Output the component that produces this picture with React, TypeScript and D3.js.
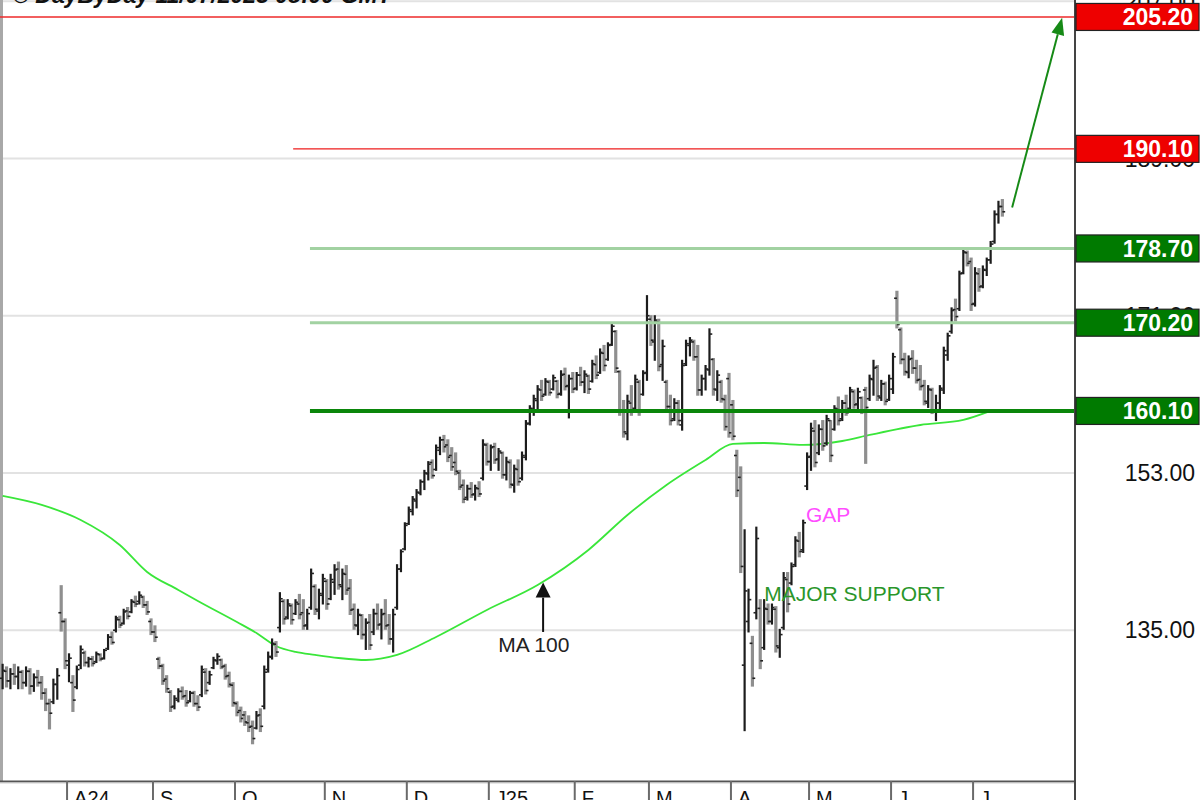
import React from "react";
import * as d3 from "d3";

// ---------- data ----------
const monthLabels = ["", "A24", "S", "O", "N", "D", "J25", "F", "M", "A", "M", "J", "J"];
const monthBarCounts = [17, 22, 21, 23, 21, 21, 22, 19, 21, 20, 21, 21, 8];

const opens = [
  129.5,130.3,129.2,130.0,129.7,130.2,129.0,130.3,128.6,129.6,
  129.0,127.8,126.6,126.8,128.8,137.0,136.0,131.0,129.0,128.5,
  131.0,132.4,131.3,131.7,131.4,132.2,131.8,132.9,134.2,135.0,
  136.2,135.8,137.2,137.1,138.2,138.3,138.8,137.9,136.0,134.8,
  131.7,130.9,129.4,127.9,126.3,127.0,128.0,127.5,126.9,127.8,
  126.6,127.6,130.2,129.0,130.7,131.5,131.6,130.9,129.8,128.7,
  126.6,125.8,125.3,124.4,124.0,123.8,125.3,126.3,130.5,131.9,
  133.4,135.3,138.3,136.5,137.8,136.9,138.0,137.0,135.6,137.6,
  140.0,137.2,139.0,140.6,138.6,140.5,142.0,140.0,141.4,139.8,
  137.4,135.5,136.7,134.5,135.9,134.8,136.9,135.7,136.9,135.6,
  134.0,137.6,142.0,144.3,147.2,148.6,149.8,150.7,152.0,152.9,
  154.2,153.4,155.6,156.8,156.2,155.0,154.2,153.0,151.6,150.2,
  151.2,150.6,151.2,152.4,156.2,154.3,156.0,154.6,155.3,152.8,
  154.2,151.6,153.4,152.4,154.8,158.7,160.3,161.3,162.5,162.0,
  163.4,162.6,163.5,162.1,164.3,163.0,163.8,162.7,164.2,163.4,
  164.1,163.5,165.4,164.5,166.7,166.0,167.7,169.2,164.6,160.0,
  157.5,161.0,160.4,163.4,162.0,164.5,170.6,168.0,170.3,165.4,
  163.4,160.6,159.2,161.0,158.5,165.5,167.6,168.0,166.3,162.5,
  163.8,164.8,166.0,162.5,163.4,161.4,163.8,160.8,155.0,152.5,
  131.0,136.0,133.5,137.0,137.5,133.0,137.4,136.0,137.4,133.0,
  135.3,140.8,140.4,142.5,145.2,144.2,151.5,154.9,157.8,155.3,
  158.0,156.4,159.0,158.0,160.3,159.2,161.0,160.4,162.3,160.9,
  161.6,162.5,161.5,163.7,165.1,161.6,163.2,161.4,162.6,173.0,
  169.4,166.0,164.5,166.1,165.0,163.7,163.0,161.0,162.5,160.1,
  161.0,162.5,166.5,169.2,171.7,171.8,175.9,178.2,177.2,172.4,
  175.8,174.4,176.2,177.4,179.5,182.6,183.5,
];
const highs = [
  131.1,130.8,130.6,131.1,130.8,130.4,130.8,130.6,130.0,130.4,
  129.7,128.3,127.1,129.4,130.6,140.1,136.3,132.3,129.8,130.9,
  133.2,132.6,131.9,132.0,132.5,132.3,132.8,134.5,134.8,136.6,
  136.6,137.4,137.6,138.5,138.9,139.4,138.9,138.3,136.3,135.5,
  131.9,131.1,129.8,128.1,127.5,128.3,128.5,128.1,128.0,128.0,
  127.5,130.9,130.6,130.3,131.9,132.3,131.7,131.1,130.2,129.0,
  126.8,126.2,125.7,125.2,124.6,125.7,126.0,130.9,132.5,134.0,
  133.7,139.3,138.5,138.5,138.0,138.5,139.1,138.5,137.4,142.0,
  140.2,139.7,141.4,140.8,141.4,142.5,142.8,142.0,142.4,140.8,
  138.0,137.4,136.8,136.3,136.8,137.4,138.0,137.4,138.5,136.8,
  137.4,142.5,144.2,147.3,149.1,150.3,151.1,152.2,153.3,154.3,
  154.5,156.2,157.1,157.3,156.8,155.9,155.3,153.3,152.2,151.6,
  151.9,151.6,152.0,156.8,156.4,156.2,156.4,155.8,155.4,154.8,
  154.5,153.9,154.5,155.4,159.0,160.7,161.9,163.0,163.6,163.8,
  163.6,164.2,163.6,164.7,165.0,164.2,164.5,164.5,165.1,164.7,
  164.2,165.9,166.4,167.2,167.6,167.9,170.1,169.3,164.7,161.3,
  161.9,163.0,164.2,163.6,164.7,173.3,171.0,171.0,170.6,168.2,
  163.6,161.9,161.5,161.3,165.9,168.2,168.5,168.2,167.6,164.2,
  165.3,169.5,166.1,164.7,163.6,161.9,164.4,161.3,155.6,153.7,
  146.5,139.7,134.3,146.8,138.5,138.5,138.0,138.0,137.7,135.1,
  141.6,141.6,142.7,145.7,146.2,147.6,155.3,158.7,159.0,158.5,
  159.0,159.6,159.0,160.7,161.7,161.3,161.9,162.8,162.5,162.7,
  161.7,162.8,164.2,165.9,165.3,163.6,163.4,164.2,166.7,173.8,
  169.6,166.7,166.4,167.0,165.9,165.3,163.6,163.0,162.7,161.9,
  163.0,167.4,169.0,171.9,172.9,176.1,178.6,178.4,177.6,176.5,
  176.4,176.7,177.6,179.5,183.0,184.1,184.3,
];
const lows = [
  128.3,128.5,128.3,128.8,128.3,128.3,128.6,127.7,128.0,128.6,
  127.1,125.8,123.7,126.6,127.1,134.9,130.6,129.1,125.7,128.3,
  130.6,130.9,130.8,130.9,131.3,131.5,131.7,132.8,133.4,134.8,
  135.3,135.7,136.3,137.0,137.7,138.0,137.6,136.8,134.5,133.7,
  130.6,128.8,127.9,125.7,126.0,126.8,127.1,126.3,126.8,126.3,
  125.8,127.4,127.7,128.8,130.6,131.1,130.6,129.4,128.5,126.3,
  125.2,124.5,124.1,123.4,122.0,123.7,123.4,126.0,130.2,131.7,
  132.0,134.8,135.7,136.3,135.7,136.8,136.3,135.1,135.1,137.4,
  136.8,136.3,138.0,137.4,138.5,139.1,139.7,138.5,139.1,136.8,
  135.1,134.5,134.0,132.8,132.8,134.5,135.1,134.0,135.1,133.4,
  132.5,137.4,141.7,144.2,147.1,148.2,149.0,150.5,151.1,152.2,
  152.4,153.3,155.1,155.4,154.3,153.3,152.8,151.1,149.6,149.9,
  150.2,149.9,150.3,152.2,153.9,153.3,154.1,153.3,152.4,152.2,
  151.3,150.8,151.6,152.2,154.5,158.5,159.6,160.2,161.3,161.9,
  161.9,162.5,161.6,161.9,162.5,159.3,162.2,162.5,163.0,162.2,
  162.1,163.4,163.8,164.4,164.7,165.9,167.6,164.5,159.6,157.1,
  156.8,159.6,160.2,159.6,161.9,163.6,167.6,165.9,164.7,163.6,
  160.2,158.5,159.0,158.5,157.9,165.3,166.4,165.9,161.9,161.9,
  162.5,164.2,161.9,161.3,161.1,157.9,157.1,156.8,150.3,141.6,
  123.5,134.8,128.6,136.3,130.6,132.8,135.7,135.7,132.5,131.9,
  135.1,137.1,140.2,142.3,143.4,143.9,151.1,153.3,153.7,155.1,
  155.6,156.2,154.3,157.9,158.5,159.0,159.6,160.2,160.4,160.0,
  159.8,154.1,161.3,161.9,161.3,161.3,160.8,161.3,162.1,169.6,
  165.5,164.2,163.9,164.4,163.3,162.5,160.8,160.5,159.8,159.0,
  160.2,162.1,165.9,169.0,170.4,171.6,175.8,176.7,171.6,172.1,
  173.8,174.2,175.6,177.0,179.3,181.6,182.4,
];
const closes = [
  130.4,129.2,130.0,129.7,130.2,129.0,130.3,128.6,129.6,129.0,
  127.8,126.6,125.5,128.8,129.8,136.0,131.5,131.8,127.0,130.5,
  132.8,131.3,131.7,131.2,132.3,131.7,132.7,134.2,133.6,136.4,
  135.6,137.1,136.6,138.3,138.0,139.0,137.9,137.1,134.8,134.2,
  130.9,129.2,128.3,126.2,127.2,128.0,127.4,126.7,127.8,126.6,
  126.2,130.5,128.1,129.9,131.6,132.0,130.8,129.7,128.8,126.7,
  125.6,124.9,124.5,123.9,122.6,125.2,124.0,130.2,132.0,133.5,
  132.5,138.6,136.3,138.0,136.2,138.2,136.8,135.5,136.9,141.5,
  137.4,139.2,140.9,138.0,140.8,141.9,140.2,141.5,139.6,137.3,
  135.6,136.8,134.5,135.8,133.3,136.9,135.6,136.8,135.5,134.0,
  136.8,142.0,144.0,147.0,148.8,150.0,150.8,152.0,153.0,154.0,
  152.7,155.9,156.8,156.0,154.8,153.7,153.2,151.4,150.0,151.2,
  150.5,151.3,150.6,156.3,154.3,155.9,154.5,155.5,152.8,154.3,
  151.7,153.5,152.0,155.0,158.6,160.4,161.5,162.6,161.8,163.5,
  162.2,163.9,162.0,164.2,162.9,163.8,162.6,164.2,163.4,164.3,
  162.6,165.5,164.2,166.8,165.3,167.6,169.8,165.0,160.2,157.7,
  161.2,160.2,163.7,160.0,164.4,171.0,168.2,170.5,165.2,167.5,
  160.6,159.0,161.0,159.0,165.3,167.8,168.2,166.3,162.5,163.8,
  164.9,168.9,162.6,164.2,161.5,158.3,157.6,157.2,151.0,142.3,
  139.5,138.5,129.5,145.5,131.5,137.5,136.0,137.6,133.2,134.5,
  141.0,138.0,142.3,145.3,144.0,147.3,154.8,158.1,154.2,158.0,
  156.1,159.2,155.0,160.4,159.0,161.0,159.9,162.5,160.8,162.3,
  160.1,160.5,163.8,165.0,161.8,163.2,161.2,163.8,166.3,170.0,
  166.0,164.6,166.0,165.0,163.6,162.9,161.2,162.6,160.2,161.0,
  162.7,167.0,168.7,171.6,170.9,175.8,178.3,177.0,172.3,175.9,
  174.3,176.3,177.4,179.2,182.6,183.5,182.9,
];

// 100-day moving average at sample bars
const maIndex = [0, 10, 20, 30, 37, 45, 50, 60, 65, 70, 75, 80, 86, 93, 101, 111, 124, 137, 150, 160, 170, 180, 187, 195, 205, 215, 222, 235, 246, 253];
const maValue = [150.37, 149.34, 147.62, 144.76, 141.67, 139.61, 138.35, 135.94, 134.68, 133.2, 132.51, 132.17, 131.82, 131.59, 132.17, 134.23, 137.32, 140.18, 144.19, 148.19, 151.63, 154.49, 156.32, 156.43, 156.21, 156.66, 157.35, 158.49, 159.07, 160.1];

const gridValues = [135, 153, 171, 189, 207];
const yTickLabels = ["135.00", "153.00", "171.00", "189.00", "207.00"];

const levelValues = [205.2, 190.1, 178.7, 170.2, 160.1];
const levelLabels = ["205.20", "190.10", "178.70", "170.20", "160.10"];
const levelStartIndex = [-0.67, 74.4, 78.7, 78.7, 78.7];
const levelKinds = ["resistanceMain", "resistance", "light", "light", "support"];

const targetArrow = { fromIndex: 258.5, fromValue: 183.4, toIndex: 271.3, toValue: 205.1 };
const maArrow = { index: 138.4, fromValue: 134.8, toValue: 140.45 };

const annotationTexts = ["MA 100", "GAP", "MAJOR SUPPORT"];
const annotationIndex = [126.9, 205.7, 195.0];
const annotationValue = [132.5, 147.4, 138.35];
const annotationColors = ["#222222", "#ff4dff", "#2a962a"];

const headerText = "\u00A9 DayByDay 11/07/2025 08:00 GMT";

// ---------- component ----------
const FONT = "'Liberation Sans', Arial, Helvetica, sans-serif";

function arrowHead(x1: number, y1: number, x2: number, y2: number, len: number, half: number) {
  const dx = x2 - x1, dy = y2 - y1;
  const d = Math.hypot(dx, dy);
  const ux = dx / d, uy = dy / d;
  const bx = x2 - ux * len, by = y2 - uy * len;
  const px = -uy, py = ux;
  return {
    points: `${x2},${y2} ${bx + px * half},${by + py * half} ${bx - px * half},${by - py * half}`,
    bx, by,
  };
}

export default function App() {
  const N = closes.length;
  const plotRight = 1075;
  const plotBottom = 781;
  const x = d3.scaleLinear().domain([-0.67, 274.6]).range([0, plotRight]);
  const y = d3.scaleLinear().domain([117.74, 207.14]).range([plotBottom, 0]);

  const starts = Array.from(d3.cumsum([0, ...monthBarCounts.slice(0, -1)]));

  const maLine = d3
    .line<number>()
    .x((_, k) => x(maIndex[k]))
    .y((v) => y(v))
    .curve(d3.curveMonotoneX)(maValue) as string;

  const ta = {
    x1: x(targetArrow.fromIndex), y1: y(targetArrow.fromValue),
    x2: x(targetArrow.toIndex), y2: y(targetArrow.toValue),
  };
  const taHead = arrowHead(ta.x1, ta.y1, ta.x2, ta.y2, 17, 6.5);
  const mx = x(maArrow.index);
  const maHead = arrowHead(mx, y(maArrow.fromValue), mx, y(maArrow.toValue), 15, 7.5);

  const levelStroke = (k: string) =>
    k === "resistanceMain" ? "#ee2a2a" : k === "resistance" ? "#ee1c1c" : k === "light" ? "#a2d2a2" : "#0a860a";
  const levelWidth = (k: string) =>
    k === "resistanceMain" ? 1.6 : k === "resistance" ? 1.2 : k === "light" ? 3 : 4;
  const boxFill = (k: string) => (k.startsWith("resistance") ? "#ee0000" : "#007a00");

  return (
    <svg
      width={1200}
      height={800}
      viewBox="0 0 1200 800"
      style={{ position: "absolute", left: 0, top: 0, display: "block", background: "#ffffff" }}
      fontFamily={FONT}
    >
      <rect x={0} y={0} width={1200} height={800} fill="#ffffff" />

      {/* grid lines */}
      {gridValues.map((v) => (
        <line key={"g" + v} x1={0} x2={plotRight} y1={y(v)} y2={y(v)} stroke="#e2e2e2" strokeWidth={2} />
      ))}

      {/* header (cut off at top) */}
      <text x={12} y={3} fontSize={23} fontWeight="bold" fontStyle="italic" fill="#111">
        {headerText}
      </text>

      {/* left border */}
      <line x1={1.5} x2={1.5} y1={0} y2={plotBottom} stroke="#a8a8a8" strokeWidth={3} />

      {/* moving average */}
      <path d={maLine} fill="none" stroke="#3ae63a" strokeWidth={1.8} />

      {/* OHLC bars */}
      {d3.range(N).map((i) => {
        const up = closes[i] >= opens[i];
        const col = up ? "#1c1c1c" : "#8f8f8f";
        const cx = x(i);
        return (
          <g key={"b" + i}>
            <line x1={cx} x2={cx} y1={y(highs[i]) - 0.5} y2={y(lows[i]) + 0.5} stroke={col} strokeWidth={up ? 2.2 : 3.2} />
            <line x1={cx - 2.8} x2={cx} y1={y(opens[i])} y2={y(opens[i])} stroke="#222" strokeWidth={1.6} />
            <line x1={cx} x2={cx + 2.8} y1={y(closes[i])} y2={y(closes[i])} stroke="#222" strokeWidth={1.6} />
          </g>
        );
      })}

      {/* horizontal levels */}
      {levelValues.map((v, k) => (
        <line
          key={"l" + k}
          x1={x(levelStartIndex[k])}
          x2={plotRight}
          y1={y(v)}
          y2={y(v)}
          stroke={levelStroke(levelKinds[k])}
          strokeWidth={levelWidth(levelKinds[k])}
        />
      ))}

      {/* target arrow */}
      <line x1={ta.x1} y1={ta.y1} x2={taHead.bx} y2={taHead.by} stroke="#168a16" strokeWidth={2} />
      <polygon points={taHead.points} fill="#168a16" />

      {/* MA 100 arrow */}
      <line x1={mx} y1={y(maArrow.fromValue)} x2={mx} y2={maHead.by} stroke="#111" strokeWidth={2} />
      <polygon points={maHead.points} fill="#111" />

      {/* annotations */}
      {annotationTexts.map((t, k) => (
        <text key={"a" + k} x={x(annotationIndex[k])} y={y(annotationValue[k])} fontSize={21} fill={annotationColors[k]}>
          {t}
        </text>
      ))}

      {/* bottom axis */}
      <line x1={0} x2={plotRight} y1={plotBottom + 0.5} y2={plotBottom + 0.5} stroke="#555" strokeWidth={2} />
      <line x1={0} x2={plotRight} y1={plotBottom + 2} y2={plotBottom + 2} stroke="#d0d0d0" strokeWidth={1} />
      {monthLabels.map((lab, m) => {
        if (m === 0) return null;
        const bx = x(starts[m] - 0.5);
        return (
          <g key={"m" + m}>
            <line x1={bx} x2={bx} y1={plotBottom} y2={800} stroke="#6a6a6a" strokeWidth={2} />
            <text x={bx + 7} y={805} fontSize={20} fill="#111">
              {lab}
            </text>
          </g>
        );
      })}

      {/* right axis */}
      <line x1={plotRight} x2={plotRight} y1={0} y2={800} stroke="#444" strokeWidth={2} />
      {gridValues.map((v, k) => (
        <text key={"t" + v} x={1195} y={y(v)} dy="0.36em" textAnchor="end" fontSize={23} fill="#111">
          {yTickLabels[k]}
        </text>
      ))}

      {/* level label boxes */}
      {levelValues.map((v, k) => (
        <g key={"bx" + k}>
          <rect
            x={plotRight + 1}
            y={y(v) - 13.5}
            width={1200 - plotRight - 2}
            height={27}
            fill={boxFill(levelKinds[k])}
            stroke="#222"
            strokeWidth={1.2}
          />
          <text x={1193} y={y(v)} dy="0.36em" textAnchor="end" fontSize={23} fontWeight="bold" fill="#ffffff">
            {levelLabels[k]}
          </text>
        </g>
      ))}
    </svg>
  );
}
